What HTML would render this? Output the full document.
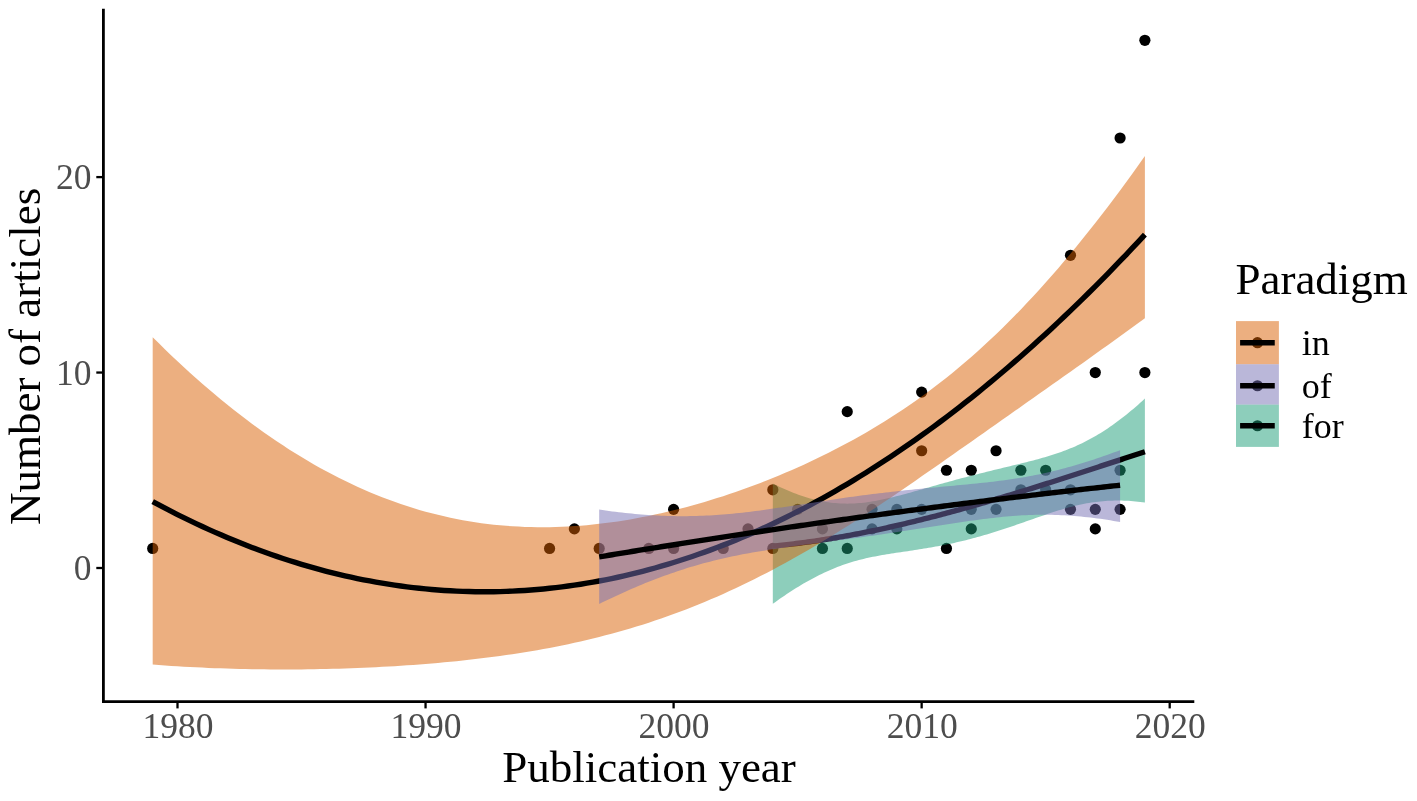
<!DOCTYPE html>
<html lang="en">
<head>
<meta charset="utf-8">
<title>Number of articles by publication year and paradigm</title>
<style>
html,body{margin:0;padding:0;background:#ffffff;}
body{width:1417px;height:801px;overflow:hidden;font-family:"Liberation Serif","Times New Roman",serif;}
svg{display:block;}
</style>
</head>
<body>
<svg width="1417" height="801" viewBox="0 0 1417 801">
<rect width="1417" height="801" fill="#ffffff"/>
<g fill="#000000">
<circle cx="152.69" cy="548.46" r="5.6"/>
<circle cx="549.58" cy="548.46" r="5.6"/>
<circle cx="574.38" cy="528.91" r="5.6"/>
<circle cx="599.18" cy="548.46" r="5.6"/>
<circle cx="648.80" cy="548.46" r="5.6"/>
<circle cx="673.60" cy="548.46" r="5.6"/>
<circle cx="673.60" cy="509.37" r="5.6"/>
<circle cx="723.21" cy="548.46" r="5.6"/>
<circle cx="748.01" cy="528.91" r="5.6"/>
<circle cx="772.82" cy="548.46" r="5.6"/>
<circle cx="772.82" cy="489.82" r="5.6"/>
<circle cx="797.62" cy="509.37" r="5.6"/>
<circle cx="822.43" cy="548.46" r="5.6"/>
<circle cx="822.43" cy="528.91" r="5.6"/>
<circle cx="847.24" cy="548.46" r="5.6"/>
<circle cx="847.24" cy="411.64" r="5.6"/>
<circle cx="872.04" cy="528.91" r="5.6"/>
<circle cx="872.04" cy="509.37" r="5.6"/>
<circle cx="896.85" cy="528.91" r="5.6"/>
<circle cx="896.85" cy="509.37" r="5.6"/>
<circle cx="921.65" cy="509.37" r="5.6"/>
<circle cx="921.65" cy="450.73" r="5.6"/>
<circle cx="921.65" cy="392.09" r="5.6"/>
<circle cx="946.46" cy="548.46" r="5.6"/>
<circle cx="946.46" cy="470.27" r="5.6"/>
<circle cx="971.26" cy="528.91" r="5.6"/>
<circle cx="971.26" cy="509.37" r="5.6"/>
<circle cx="971.26" cy="470.27" r="5.6"/>
<circle cx="996.06" cy="509.37" r="5.6"/>
<circle cx="996.06" cy="450.73" r="5.6"/>
<circle cx="1020.87" cy="489.82" r="5.6"/>
<circle cx="1020.87" cy="470.27" r="5.6"/>
<circle cx="1045.67" cy="489.82" r="5.6"/>
<circle cx="1045.67" cy="470.27" r="5.6"/>
<circle cx="1070.48" cy="509.37" r="5.6"/>
<circle cx="1070.48" cy="489.82" r="5.6"/>
<circle cx="1070.48" cy="255.28" r="5.6"/>
<circle cx="1095.28" cy="528.91" r="5.6"/>
<circle cx="1095.28" cy="509.37" r="5.6"/>
<circle cx="1095.28" cy="372.55" r="5.6"/>
<circle cx="1120.09" cy="509.37" r="5.6"/>
<circle cx="1120.09" cy="470.27" r="5.6"/>
<circle cx="1120.09" cy="138.01" r="5.6"/>
<circle cx="1144.89" cy="372.55" r="5.6"/>
<circle cx="1144.89" cy="40.28" r="5.6"/>
</g>
<path d="M772.82,483.52 L775.15,484.70 L777.47,485.85 L779.80,486.96 L782.12,488.04 L784.45,489.09 L786.77,490.11 L789.10,491.10 L791.42,492.05 L793.75,492.97 L796.07,493.85 L798.40,494.70 L800.73,495.51 L803.05,496.29 L805.38,497.03 L807.70,497.73 L810.03,498.40 L812.35,499.03 L814.68,499.62 L817.00,500.17 L819.33,500.68 L821.65,501.15 L823.98,501.58 L826.31,501.97 L828.63,502.32 L830.96,502.63 L833.28,502.90 L835.61,503.12 L837.93,503.31 L840.26,503.45 L842.58,503.55 L844.91,503.61 L847.24,503.63 L849.56,503.60 L851.89,503.54 L854.21,503.44 L856.54,503.30 L858.86,503.12 L861.19,502.91 L863.51,502.66 L865.84,502.38 L868.16,502.07 L870.49,501.73 L872.82,501.35 L875.14,500.95 L877.47,500.52 L879.79,500.07 L882.12,499.60 L884.44,499.10 L886.77,498.59 L889.09,498.05 L891.42,497.50 L893.74,496.93 L896.07,496.35 L898.40,495.76 L900.72,495.16 L903.05,494.54 L905.37,493.92 L907.70,493.29 L910.02,492.65 L912.35,492.00 L914.67,491.35 L917.00,490.70 L919.32,490.04 L921.65,489.39 L923.98,488.73 L926.30,488.07 L928.63,487.41 L930.95,486.74 L933.28,486.08 L935.60,485.43 L937.93,484.77 L940.25,484.12 L942.58,483.46 L944.90,482.81 L947.23,482.17 L949.56,481.53 L951.88,480.89 L954.21,480.25 L956.53,479.62 L958.86,479.00 L961.18,478.37 L963.51,477.76 L965.83,477.14 L968.16,476.54 L970.48,475.93 L972.81,475.33 L975.14,474.74 L977.46,474.14 L979.79,473.56 L982.11,472.97 L984.44,472.39 L986.76,471.82 L989.09,471.25 L991.41,470.68 L993.74,470.11 L996.06,469.55 L998.39,468.98 L1000.72,468.42 L1003.04,467.86 L1005.37,467.30 L1007.69,466.74 L1010.02,466.18 L1012.34,465.62 L1014.67,465.06 L1016.99,464.49 L1019.32,463.92 L1021.65,463.35 L1023.97,462.77 L1026.30,462.19 L1028.62,461.60 L1030.95,461.00 L1033.27,460.39 L1035.60,459.77 L1037.92,459.14 L1040.25,458.50 L1042.57,457.84 L1044.90,457.17 L1047.23,456.48 L1049.55,455.77 L1051.88,455.04 L1054.20,454.30 L1056.53,453.53 L1058.85,452.73 L1061.18,451.91 L1063.50,451.07 L1065.83,450.19 L1068.15,449.29 L1070.48,448.35 L1072.81,447.38 L1075.13,446.38 L1077.46,445.35 L1079.78,444.28 L1082.11,443.17 L1084.43,442.02 L1086.76,440.84 L1089.08,439.62 L1091.41,438.36 L1093.73,437.06 L1096.06,435.72 L1098.39,434.34 L1100.71,432.92 L1103.04,431.46 L1105.36,429.96 L1107.69,428.42 L1110.01,426.84 L1112.34,425.22 L1114.66,423.56 L1116.99,421.86 L1119.31,420.12 L1121.64,418.34 L1123.97,416.53 L1126.29,414.68 L1128.62,412.79 L1130.94,410.86 L1133.27,408.90 L1135.59,406.91 L1137.92,404.88 L1140.24,402.81 L1142.57,400.71 L1144.89,398.58 L1144.89,502.48 L1142.57,502.17 L1140.24,501.89 L1137.92,501.63 L1135.59,501.40 L1133.27,501.19 L1130.94,501.02 L1128.62,500.87 L1126.29,500.75 L1123.97,500.66 L1121.64,500.59 L1119.31,500.56 L1116.99,500.56 L1114.66,500.58 L1112.34,500.64 L1110.01,500.73 L1107.69,500.85 L1105.36,501.00 L1103.04,501.18 L1100.71,501.40 L1098.39,501.65 L1096.06,501.93 L1093.73,502.24 L1091.41,502.58 L1089.08,502.95 L1086.76,503.36 L1084.43,503.79 L1082.11,504.26 L1079.78,504.75 L1077.46,505.27 L1075.13,505.82 L1072.81,506.40 L1070.48,507.00 L1068.15,507.62 L1065.83,508.27 L1063.50,508.94 L1061.18,509.63 L1058.85,510.33 L1056.53,511.06 L1054.20,511.79 L1051.88,512.55 L1049.55,513.31 L1047.23,514.09 L1044.90,514.88 L1042.57,515.67 L1040.25,516.48 L1037.92,517.29 L1035.60,518.10 L1033.27,518.91 L1030.95,519.73 L1028.62,520.55 L1026.30,521.37 L1023.97,522.19 L1021.65,523.00 L1019.32,523.81 L1016.99,524.62 L1014.67,525.42 L1012.34,526.22 L1010.02,527.01 L1007.69,527.79 L1005.37,528.57 L1003.04,529.33 L1000.72,530.09 L998.39,530.84 L996.06,531.58 L993.74,532.31 L991.41,533.03 L989.09,533.73 L986.76,534.43 L984.44,535.11 L982.11,535.79 L979.79,536.45 L977.46,537.09 L975.14,537.73 L972.81,538.35 L970.48,538.96 L968.16,539.56 L965.83,540.15 L963.51,540.72 L961.18,541.28 L958.86,541.82 L956.53,542.36 L954.21,542.88 L951.88,543.39 L949.56,543.88 L947.23,544.37 L944.90,544.84 L942.58,545.30 L940.25,545.75 L937.93,546.19 L935.60,546.62 L933.28,547.04 L930.95,547.45 L928.63,547.85 L926.30,548.24 L923.98,548.62 L921.65,549.00 L919.32,549.37 L917.00,549.73 L914.67,550.09 L912.35,550.44 L910.02,550.79 L907.70,551.14 L905.37,551.48 L903.05,551.83 L900.72,552.17 L898.40,552.52 L896.07,552.87 L893.74,553.23 L891.42,553.59 L889.09,553.95 L886.77,554.33 L884.44,554.72 L882.12,555.11 L879.79,555.52 L877.47,555.95 L875.14,556.39 L872.82,556.85 L870.49,557.33 L868.16,557.83 L865.84,558.35 L863.51,558.90 L861.19,559.47 L858.86,560.07 L856.54,560.70 L854.21,561.35 L851.89,562.04 L849.56,562.75 L847.24,563.50 L844.91,564.28 L842.58,565.09 L840.26,565.93 L837.93,566.81 L835.61,567.72 L833.28,568.66 L830.96,569.64 L828.63,570.65 L826.31,571.70 L823.98,572.77 L821.65,573.88 L819.33,575.02 L817.00,576.20 L814.68,577.40 L812.35,578.63 L810.03,579.90 L807.70,581.19 L805.38,582.52 L803.05,583.87 L800.73,585.25 L798.40,586.66 L796.07,588.09 L793.75,589.55 L791.42,591.04 L789.10,592.55 L786.77,594.09 L784.45,595.65 L782.12,597.24 L779.80,598.85 L777.47,600.48 L775.15,602.14 L772.82,603.82Z" fill="#1B9E77" fill-opacity="0.5"/>
<path d="M772.82,546.04 L775.15,545.82 L777.47,545.60 L779.80,545.36 L782.12,545.12 L784.45,544.88 L786.77,544.62 L789.10,544.36 L791.42,544.09 L793.75,543.82 L796.07,543.54 L798.40,543.25 L800.73,542.95 L803.05,542.65 L805.38,542.34 L807.70,542.03 L810.03,541.71 L812.35,541.38 L814.68,541.05 L817.00,540.71 L819.33,540.36 L821.65,540.01 L823.98,539.65 L826.31,539.28 L828.63,538.91 L830.96,538.53 L833.28,538.15 L835.61,537.76 L837.93,537.36 L840.26,536.96 L842.58,536.56 L844.91,536.14 L847.24,535.72 L849.56,535.30 L851.89,534.87 L854.21,534.43 L856.54,533.99 L858.86,533.55 L861.19,533.09 L863.51,532.64 L865.84,532.17 L868.16,531.70 L870.49,531.23 L872.82,530.75 L875.14,530.27 L877.47,529.78 L879.79,529.28 L882.12,528.79 L884.44,528.28 L886.77,527.77 L889.09,527.26 L891.42,526.74 L893.74,526.22 L896.07,525.69 L898.40,525.15 L900.72,524.62 L903.05,524.07 L905.37,523.53 L907.70,522.98 L910.02,522.42 L912.35,521.86 L914.67,521.30 L917.00,520.73 L919.32,520.15 L921.65,519.58 L923.98,518.99 L926.30,518.41 L928.63,517.82 L930.95,517.23 L933.28,516.63 L935.60,516.03 L937.93,515.42 L940.25,514.81 L942.58,514.20 L944.90,513.58 L947.23,512.96 L949.56,512.33 L951.88,511.71 L954.21,511.08 L956.53,510.44 L958.86,509.80 L961.18,509.16 L963.51,508.51 L965.83,507.87 L968.16,507.21 L970.48,506.56 L972.81,505.90 L975.14,505.24 L977.46,504.57 L979.79,503.91 L982.11,503.24 L984.44,502.56 L986.76,501.89 L989.09,501.21 L991.41,500.53 L993.74,499.84 L996.06,499.15 L998.39,498.46 L1000.72,497.77 L1003.04,497.07 L1005.37,496.38 L1007.69,495.68 L1010.02,494.97 L1012.34,494.27 L1014.67,493.56 L1016.99,492.85 L1019.32,492.14 L1021.65,491.43 L1023.97,490.71 L1026.30,489.99 L1028.62,489.27 L1030.95,488.55 L1033.27,487.82 L1035.60,487.10 L1037.92,486.37 L1040.25,485.64 L1042.57,484.91 L1044.90,484.17 L1047.23,483.44 L1049.55,482.70 L1051.88,481.96 L1054.20,481.23 L1056.53,480.48 L1058.85,479.74 L1061.18,479.00 L1063.50,478.25 L1065.83,477.51 L1068.15,476.76 L1070.48,476.01 L1072.81,475.26 L1075.13,474.51 L1077.46,473.76 L1079.78,473.00 L1082.11,472.25 L1084.43,471.49 L1086.76,470.74 L1089.08,469.98 L1091.41,469.22 L1093.73,468.46 L1096.06,467.71 L1098.39,466.95 L1100.71,466.19 L1103.04,465.43 L1105.36,464.66 L1107.69,463.90 L1110.01,463.14 L1112.34,462.38 L1114.66,461.62 L1116.99,460.85 L1119.31,460.09 L1121.64,459.33 L1123.97,458.56 L1126.29,457.80 L1128.62,457.04 L1130.94,456.27 L1133.27,455.51 L1135.59,454.75 L1137.92,453.99 L1140.24,453.22 L1142.57,452.46 L1144.89,451.70" fill="none" stroke="#000" stroke-width="5.4"/>
<path d="M152.69,337.18 L158.90,343.36 L165.10,349.44 L171.30,355.41 L177.50,361.28 L183.70,367.05 L189.90,372.72 L196.10,378.28 L202.31,383.75 L208.51,389.11 L214.71,394.36 L220.91,399.52 L227.11,404.57 L233.31,409.51 L239.51,414.36 L245.71,419.10 L251.91,423.74 L258.12,428.27 L264.32,432.70 L270.52,437.03 L276.72,441.25 L282.92,445.37 L289.12,449.39 L295.32,453.30 L301.52,457.11 L307.73,460.82 L313.93,464.42 L320.13,467.92 L326.33,471.31 L332.53,474.60 L338.73,477.79 L344.93,480.87 L351.13,483.85 L357.34,486.73 L363.54,489.50 L369.74,492.17 L375.94,494.74 L382.14,497.21 L388.34,499.57 L394.54,501.84 L400.75,504.00 L406.95,506.06 L413.15,508.02 L419.35,509.88 L425.55,511.64 L431.75,513.30 L437.95,514.87 L444.15,516.34 L450.36,517.71 L456.56,518.98 L462.76,520.16 L468.96,521.24 L475.16,522.23 L481.36,523.13 L487.56,523.94 L493.76,524.65 L499.96,525.28 L506.17,525.81 L512.37,526.26 L518.57,526.62 L524.77,526.89 L530.97,527.08 L537.17,527.19 L543.37,527.21 L549.58,527.15 L555.78,527.01 L561.98,526.78 L568.18,526.49 L574.38,526.11 L580.58,525.65 L586.78,525.13 L592.98,524.52 L599.18,523.84 L605.39,523.09 L611.59,522.27 L617.79,521.38 L623.99,520.42 L630.19,519.39 L636.39,518.29 L642.59,517.12 L648.80,515.89 L655.00,514.59 L661.20,513.23 L667.40,511.80 L673.60,510.31 L679.80,508.76 L686.00,507.14 L692.20,505.46 L698.40,503.72 L704.61,501.91 L710.81,500.05 L717.01,498.12 L723.21,496.13 L729.41,494.08 L735.61,491.97 L741.81,489.80 L748.01,487.57 L754.22,485.27 L760.42,482.92 L766.62,480.50 L772.82,478.02 L779.02,475.48 L785.22,472.87 L791.42,470.19 L797.62,467.46 L803.83,464.65 L810.03,461.78 L816.23,458.84 L822.43,455.83 L828.63,452.74 L834.83,449.59 L841.03,446.35 L847.24,443.05 L853.44,439.66 L859.64,436.19 L865.84,432.64 L872.04,429.00 L878.24,425.27 L884.44,421.46 L890.64,417.55 L896.85,413.54 L903.05,409.43 L909.25,405.23 L915.45,400.91 L921.65,396.49 L927.85,391.96 L934.05,387.32 L940.25,382.56 L946.46,377.68 L952.66,372.68 L958.86,367.56 L965.06,362.32 L971.26,356.95 L977.46,351.46 L983.66,345.83 L989.86,340.08 L996.06,334.20 L1002.27,328.19 L1008.47,322.06 L1014.67,315.79 L1020.87,309.40 L1027.07,302.87 L1033.27,296.22 L1039.47,289.45 L1045.67,282.55 L1051.88,275.53 L1058.08,268.38 L1064.28,261.11 L1070.48,253.72 L1076.68,246.21 L1082.88,238.58 L1089.08,230.83 L1095.28,222.97 L1101.49,214.99 L1107.69,206.90 L1113.89,198.69 L1120.09,190.38 L1126.29,181.94 L1132.49,173.40 L1138.69,164.75 L1144.89,155.99 L1144.89,318.15 L1138.69,322.69 L1132.49,327.21 L1126.29,331.72 L1120.09,336.21 L1113.89,340.69 L1107.69,345.15 L1101.49,349.60 L1095.28,354.04 L1089.08,358.47 L1082.88,362.89 L1076.68,367.30 L1070.48,371.70 L1064.28,376.09 L1058.08,380.48 L1051.88,384.86 L1045.67,389.24 L1039.47,393.61 L1033.27,397.98 L1027.07,402.35 L1020.87,406.71 L1014.67,411.08 L1008.47,415.44 L1002.27,419.81 L996.06,424.17 L989.86,428.54 L983.66,432.90 L977.46,437.27 L971.26,441.63 L965.06,445.99 L958.86,450.35 L952.66,454.70 L946.46,459.05 L940.25,463.40 L934.05,467.73 L927.85,472.05 L921.65,476.36 L915.45,480.66 L909.25,484.94 L903.05,489.19 L896.85,493.43 L890.64,497.63 L884.44,501.81 L878.24,505.96 L872.04,510.08 L865.84,514.16 L859.64,518.20 L853.44,522.21 L847.24,526.16 L841.03,530.08 L834.83,533.95 L828.63,537.77 L822.43,541.53 L816.23,545.25 L810.03,548.91 L803.83,552.52 L797.62,556.07 L791.42,559.56 L785.22,563.00 L779.02,566.37 L772.82,569.68 L766.62,572.93 L760.42,576.12 L754.22,579.25 L748.01,582.31 L741.81,585.31 L735.61,588.25 L729.41,591.12 L723.21,593.93 L717.01,596.67 L710.81,599.35 L704.61,601.96 L698.40,604.52 L692.20,607.00 L686.00,609.42 L679.80,611.78 L673.60,614.08 L667.40,616.32 L661.20,618.49 L655.00,620.60 L648.80,622.65 L642.59,624.64 L636.39,626.57 L630.19,628.44 L623.99,630.26 L617.79,632.02 L611.59,633.72 L605.39,635.36 L599.18,636.96 L592.98,638.50 L586.78,639.98 L580.58,641.42 L574.38,642.81 L568.18,644.14 L561.98,645.43 L555.78,646.68 L549.58,647.88 L543.37,649.03 L537.17,650.14 L530.97,651.21 L524.77,652.23 L518.57,653.22 L512.37,654.17 L506.17,655.08 L499.96,655.96 L493.76,656.80 L487.56,657.60 L481.36,658.37 L475.16,659.11 L468.96,659.82 L462.76,660.50 L456.56,661.15 L450.36,661.76 L444.15,662.36 L437.95,662.92 L431.75,663.46 L425.55,663.97 L419.35,664.45 L413.15,664.91 L406.95,665.35 L400.75,665.76 L394.54,666.15 L388.34,666.52 L382.14,666.86 L375.94,667.18 L369.74,667.48 L363.54,667.76 L357.34,668.02 L351.13,668.26 L344.93,668.47 L338.73,668.66 L332.53,668.84 L326.33,668.99 L320.13,669.12 L313.93,669.23 L307.73,669.32 L301.52,669.39 L295.32,669.43 L289.12,669.46 L282.92,669.47 L276.72,669.45 L270.52,669.42 L264.32,669.36 L258.12,669.28 L251.91,669.18 L245.71,669.06 L239.51,668.92 L233.31,668.76 L227.11,668.57 L220.91,668.37 L214.71,668.14 L208.51,667.89 L202.31,667.61 L196.10,667.32 L189.90,667.00 L183.70,666.66 L177.50,666.30 L171.30,665.91 L165.10,665.50 L158.90,665.07 L152.69,664.61Z" fill="#D95F02" fill-opacity="0.5"/>
<path d="M152.69,501.58 L158.90,504.91 L165.10,508.19 L171.30,511.40 L177.50,514.56 L183.70,517.64 L189.90,520.67 L196.10,523.63 L202.31,526.53 L208.51,529.36 L214.71,532.13 L220.91,534.84 L227.11,537.49 L233.31,540.07 L239.51,542.59 L245.71,545.05 L251.91,547.45 L258.12,549.78 L264.32,552.05 L270.52,554.25 L276.72,556.39 L282.92,558.47 L289.12,560.49 L295.32,562.44 L301.52,564.34 L307.73,566.16 L313.93,567.93 L320.13,569.63 L326.33,571.27 L332.53,572.84 L338.73,574.36 L344.93,575.81 L351.13,577.19 L357.34,578.52 L363.54,579.78 L369.74,580.97 L375.94,582.11 L382.14,583.18 L388.34,584.19 L394.54,585.14 L400.75,586.02 L406.95,586.84 L413.15,587.60 L419.35,588.29 L425.55,588.92 L431.75,589.49 L437.95,589.99 L444.15,590.44 L450.36,590.81 L456.56,591.13 L462.76,591.38 L468.96,591.57 L475.16,591.70 L481.36,591.76 L487.56,591.76 L493.76,591.70 L499.96,591.58 L506.17,591.39 L512.37,591.14 L518.57,590.82 L524.77,590.45 L530.97,590.01 L537.17,589.51 L543.37,588.94 L549.58,588.31 L555.78,587.62 L561.98,586.86 L568.18,586.05 L574.38,585.17 L580.58,584.22 L586.78,583.21 L592.98,582.14 L599.18,581.01 L605.39,579.82 L611.59,578.56 L617.79,577.24 L623.99,575.85 L630.19,574.40 L636.39,572.89 L642.59,571.32 L648.80,569.68 L655.00,567.98 L661.20,566.22 L667.40,564.39 L673.60,562.51 L679.80,560.55 L686.00,558.54 L692.20,556.46 L698.40,554.32 L704.61,552.12 L710.81,549.85 L717.01,547.52 L723.21,545.13 L729.41,542.67 L735.61,540.15 L741.81,537.57 L748.01,534.93 L754.22,532.22 L760.42,529.45 L766.62,526.62 L772.82,523.72 L779.02,520.76 L785.22,517.74 L791.42,514.65 L797.62,511.51 L803.83,508.29 L810.03,505.02 L816.23,501.68 L822.43,498.28 L828.63,494.82 L834.83,491.29 L841.03,487.70 L847.24,484.05 L853.44,480.34 L859.64,476.56 L865.84,472.72 L872.04,468.81 L878.24,464.84 L884.44,460.81 L890.64,456.72 L896.85,452.57 L903.05,448.35 L909.25,444.06 L915.45,439.72 L921.65,435.31 L927.85,430.84 L934.05,426.31 L940.25,421.71 L946.46,417.05 L952.66,412.33 L958.86,407.54 L965.06,402.69 L971.26,397.78 L977.46,392.80 L983.66,387.76 L989.86,382.66 L996.06,377.50 L1002.27,372.27 L1008.47,366.98 L1014.67,361.63 L1020.87,356.21 L1027.07,350.74 L1033.27,345.19 L1039.47,339.59 L1045.67,333.92 L1051.88,328.19 L1058.08,322.40 L1064.28,316.54 L1070.48,310.62 L1076.68,304.64 L1082.88,298.59 L1089.08,292.48 L1095.28,286.31 L1101.49,280.08 L1107.69,273.78 L1113.89,267.42 L1120.09,260.99 L1126.29,254.51 L1132.49,247.96 L1138.69,241.34 L1144.89,234.67" fill="none" stroke="#000" stroke-width="5.4"/>
<path d="M599.18,509.54 L602.44,510.02 L605.70,510.49 L608.95,510.94 L612.21,511.38 L615.46,511.79 L618.72,512.19 L621.97,512.57 L625.23,512.94 L628.49,513.28 L631.74,513.61 L635.00,513.92 L638.25,514.21 L641.51,514.48 L644.76,514.73 L648.02,514.97 L651.28,515.18 L654.53,515.37 L657.79,515.55 L661.04,515.70 L664.30,515.83 L667.55,515.94 L670.81,516.03 L674.07,516.10 L677.32,516.15 L680.58,516.17 L683.83,516.18 L687.09,516.16 L690.34,516.12 L693.60,516.06 L696.85,515.98 L700.11,515.87 L703.37,515.74 L706.62,515.60 L709.88,515.43 L713.13,515.23 L716.39,515.02 L719.64,514.79 L722.90,514.54 L726.16,514.27 L729.41,513.98 L732.67,513.67 L735.92,513.34 L739.18,513.00 L742.43,512.64 L745.69,512.27 L748.95,511.88 L752.20,511.47 L755.46,511.06 L758.71,510.63 L761.97,510.19 L765.22,509.75 L768.48,509.29 L771.73,508.82 L774.99,508.35 L778.25,507.87 L781.50,507.38 L784.76,506.89 L788.01,506.40 L791.27,505.90 L794.52,505.40 L797.78,504.90 L801.04,504.40 L804.29,503.90 L807.55,503.39 L810.80,502.89 L814.06,502.39 L817.31,501.89 L820.57,501.40 L823.83,500.90 L827.08,500.41 L830.34,499.93 L833.59,499.45 L836.85,498.97 L840.10,498.50 L843.36,498.03 L846.61,497.57 L849.87,497.11 L853.13,496.66 L856.38,496.22 L859.64,495.78 L862.89,495.35 L866.15,494.92 L869.40,494.50 L872.66,494.09 L875.92,493.69 L879.17,493.29 L882.43,492.89 L885.68,492.51 L888.94,492.13 L892.19,491.76 L895.45,491.39 L898.71,491.03 L901.96,490.68 L905.22,490.33 L908.47,489.99 L911.73,489.66 L914.98,489.33 L918.24,489.00 L921.49,488.68 L924.75,488.37 L928.01,488.05 L931.26,487.74 L934.52,487.44 L937.77,487.13 L941.03,486.83 L944.28,486.53 L947.54,486.23 L950.80,485.93 L954.05,485.63 L957.31,485.33 L960.56,485.03 L963.82,484.72 L967.07,484.41 L970.33,484.09 L973.59,483.77 L976.84,483.44 L980.10,483.10 L983.35,482.76 L986.61,482.40 L989.86,482.03 L993.12,481.65 L996.38,481.26 L999.63,480.85 L1002.89,480.42 L1006.14,479.98 L1009.40,479.52 L1012.65,479.03 L1015.91,478.53 L1019.16,478.01 L1022.42,477.47 L1025.68,476.90 L1028.93,476.31 L1032.19,475.70 L1035.44,475.06 L1038.70,474.40 L1041.95,473.72 L1045.21,473.01 L1048.47,472.27 L1051.72,471.51 L1054.98,470.72 L1058.23,469.91 L1061.49,469.08 L1064.74,468.21 L1068.00,467.33 L1071.26,466.42 L1074.51,465.49 L1077.77,464.54 L1081.02,463.56 L1084.28,462.56 L1087.53,461.53 L1090.79,460.49 L1094.04,459.43 L1097.30,458.34 L1100.56,457.23 L1103.81,456.10 L1107.07,454.96 L1110.32,453.79 L1113.58,452.60 L1116.83,451.40 L1120.09,450.18 L1120.09,522.01 L1116.83,521.44 L1113.58,520.88 L1110.32,520.34 L1107.07,519.83 L1103.81,519.34 L1100.56,518.87 L1097.30,518.43 L1094.04,518.01 L1090.79,517.61 L1087.53,517.24 L1084.28,516.89 L1081.02,516.57 L1077.77,516.27 L1074.51,516.00 L1071.26,515.75 L1068.00,515.54 L1064.74,515.34 L1061.49,515.18 L1058.23,515.04 L1054.98,514.93 L1051.72,514.85 L1048.47,514.80 L1045.21,514.77 L1041.95,514.78 L1038.70,514.81 L1035.44,514.87 L1032.19,514.95 L1028.93,515.06 L1025.68,515.20 L1022.42,515.37 L1019.16,515.56 L1015.91,515.78 L1012.65,516.02 L1009.40,516.28 L1006.14,516.57 L1002.89,516.87 L999.63,517.20 L996.38,517.54 L993.12,517.91 L989.86,518.29 L986.61,518.68 L983.35,519.10 L980.10,519.52 L976.84,519.96 L973.59,520.40 L970.33,520.86 L967.07,521.33 L963.82,521.80 L960.56,522.28 L957.31,522.77 L954.05,523.26 L950.80,523.76 L947.54,524.26 L944.28,524.77 L941.03,525.27 L937.77,525.78 L934.52,526.29 L931.26,526.80 L928.01,527.31 L924.75,527.82 L921.49,528.33 L918.24,528.84 L914.98,529.34 L911.73,529.85 L908.47,530.35 L905.22,530.85 L901.96,531.34 L898.71,531.83 L895.45,532.32 L892.19,532.81 L888.94,533.29 L885.68,533.77 L882.43,534.25 L879.17,534.72 L875.92,535.19 L872.66,535.65 L869.40,536.11 L866.15,536.57 L862.89,537.02 L859.64,537.47 L856.38,537.92 L853.13,538.36 L849.87,538.81 L846.61,539.24 L843.36,539.68 L840.10,540.11 L836.85,540.54 L833.59,540.97 L830.34,541.40 L827.08,541.82 L823.83,542.25 L820.57,542.67 L817.31,543.10 L814.06,543.52 L810.80,543.95 L807.55,544.38 L804.29,544.81 L801.04,545.24 L797.78,545.68 L794.52,546.12 L791.27,546.56 L788.01,547.01 L784.76,547.47 L781.50,547.93 L778.25,548.40 L774.99,548.88 L771.73,549.37 L768.48,549.87 L765.22,550.39 L761.97,550.91 L758.71,551.45 L755.46,552.00 L752.20,552.56 L748.95,553.14 L745.69,553.74 L742.43,554.36 L739.18,554.99 L735.92,555.64 L732.67,556.32 L729.41,557.01 L726.16,557.72 L722.90,558.46 L719.64,559.22 L716.39,560.00 L713.13,560.81 L709.88,561.63 L706.62,562.49 L703.37,563.37 L700.11,564.27 L696.85,565.19 L693.60,566.15 L690.34,567.12 L687.09,568.12 L683.83,569.15 L680.58,570.20 L677.32,571.28 L674.07,572.38 L670.81,573.50 L667.55,574.65 L664.30,575.82 L661.04,577.02 L657.79,578.24 L654.53,579.48 L651.28,580.75 L648.02,582.04 L644.76,583.35 L641.51,584.69 L638.25,586.05 L635.00,587.43 L631.74,588.83 L628.49,590.25 L625.23,591.69 L621.97,593.16 L618.72,594.64 L615.46,596.15 L612.21,597.68 L608.95,599.22 L605.70,600.79 L602.44,602.37 L599.18,603.98Z" fill="#7570B3" fill-opacity="0.5"/>
<path d="M599.18,556.88 L602.44,556.33 L605.70,555.79 L608.95,555.25 L612.21,554.72 L615.46,554.18 L618.72,553.65 L621.97,553.11 L625.23,552.58 L628.49,552.05 L631.74,551.52 L635.00,550.99 L638.25,550.46 L641.51,549.93 L644.76,549.40 L648.02,548.88 L651.28,548.36 L654.53,547.83 L657.79,547.31 L661.04,546.79 L664.30,546.27 L667.55,545.75 L670.81,545.24 L674.07,544.72 L677.32,544.21 L680.58,543.69 L683.83,543.18 L687.09,542.67 L690.34,542.16 L693.60,541.65 L696.85,541.15 L700.11,540.64 L703.37,540.14 L706.62,539.63 L709.88,539.13 L713.13,538.63 L716.39,538.13 L719.64,537.63 L722.90,537.13 L726.16,536.63 L729.41,536.14 L732.67,535.64 L735.92,535.15 L739.18,534.66 L742.43,534.17 L745.69,533.68 L748.95,533.19 L752.20,532.70 L755.46,532.22 L758.71,531.73 L761.97,531.25 L765.22,530.77 L768.48,530.28 L771.73,529.80 L774.99,529.33 L778.25,528.85 L781.50,528.37 L784.76,527.90 L788.01,527.42 L791.27,526.95 L794.52,526.48 L797.78,526.00 L801.04,525.53 L804.29,525.07 L807.55,524.60 L810.80,524.13 L814.06,523.67 L817.31,523.20 L820.57,522.74 L823.83,522.28 L827.08,521.82 L830.34,521.36 L833.59,520.90 L836.85,520.45 L840.10,519.99 L843.36,519.54 L846.61,519.08 L849.87,518.63 L853.13,518.18 L856.38,517.73 L859.64,517.28 L862.89,516.83 L866.15,516.39 L869.40,515.94 L872.66,515.50 L875.92,515.06 L879.17,514.62 L882.43,514.17 L885.68,513.74 L888.94,513.30 L892.19,512.86 L895.45,512.43 L898.71,511.99 L901.96,511.56 L905.22,511.13 L908.47,510.69 L911.73,510.26 L914.98,509.84 L918.24,509.41 L921.49,508.98 L924.75,508.56 L928.01,508.13 L931.26,507.71 L934.52,507.29 L937.77,506.87 L941.03,506.45 L944.28,506.03 L947.54,505.62 L950.80,505.20 L954.05,504.79 L957.31,504.37 L960.56,503.96 L963.82,503.55 L967.07,503.14 L970.33,502.73 L973.59,502.32 L976.84,501.92 L980.10,501.51 L983.35,501.11 L986.61,500.71 L989.86,500.30 L993.12,499.90 L996.38,499.50 L999.63,499.11 L1002.89,498.71 L1006.14,498.31 L1009.40,497.92 L1012.65,497.53 L1015.91,497.13 L1019.16,496.74 L1022.42,496.35 L1025.68,495.96 L1028.93,495.58 L1032.19,495.19 L1035.44,494.81 L1038.70,494.42 L1041.95,494.04 L1045.21,493.66 L1048.47,493.28 L1051.72,492.90 L1054.98,492.52 L1058.23,492.14 L1061.49,491.77 L1064.74,491.39 L1068.00,491.02 L1071.26,490.65 L1074.51,490.28 L1077.77,489.91 L1081.02,489.54 L1084.28,489.17 L1087.53,488.80 L1090.79,488.44 L1094.04,488.07 L1097.30,487.71 L1100.56,487.35 L1103.81,486.99 L1107.07,486.63 L1110.32,486.27 L1113.58,485.91 L1116.83,485.56 L1120.09,485.20" fill="none" stroke="#000" stroke-width="5.4"/>
<g stroke="#000" stroke-width="2.8" fill="none" stroke-linecap="butt">
<path d="M103.4,8.7 V703.0"/>
<path d="M102.0,701.6 H1194.3"/>
</g>
<g stroke="#000" stroke-width="2.3" fill="none">
<path d="M177.50,703.0 V708.4"/>
<path d="M425.55,703.0 V708.4"/>
<path d="M673.60,703.0 V708.4"/>
<path d="M921.65,703.0 V708.4"/>
<path d="M1169.70,703.0 V708.4"/>
<path d="M96.3,568.00 H102.10000000000001"/>
<path d="M96.3,372.55 H102.10000000000001"/>
<path d="M96.3,177.10 H102.10000000000001"/>
</g>
<g font-family="'Liberation Serif', 'Times New Roman', serif" font-size="35.5" fill="#4D4D4D">
<text x="178.00" y="738" text-anchor="middle">1980</text>
<text x="426.05" y="738" text-anchor="middle">1990</text>
<text x="674.10" y="738" text-anchor="middle">2000</text>
<text x="922.15" y="738" text-anchor="middle">2010</text>
<text x="1170.20" y="738" text-anchor="middle">2020</text>
<text x="91.5" y="580.10" text-anchor="end">0</text>
<text x="91.5" y="384.65" text-anchor="end">10</text>
<text x="91.5" y="189.20" text-anchor="end">20</text>
</g>
<g font-family="'Liberation Serif', 'Times New Roman', serif" fill="#000">
<text x="649" y="781.7" font-size="45" text-anchor="middle">Publication year</text>
<text transform="translate(40,356.4) rotate(-90)" font-size="45" text-anchor="middle">Number of articles</text>
<text x="1235.4" y="294.2" font-size="45">Paradigm</text>
<text x="1301.8" y="354.6" font-size="36">in</text>
<text x="1301.8" y="397.8" font-size="36">of</text>
<text x="1301.8" y="437.7" font-size="36">for</text>
</g>
<circle cx="1257.45" cy="342.68" r="5.6" fill="#000"/>
<rect x="1236.0" y="321.1" width="42.90" height="43.15" fill="#D95F02" fill-opacity="0.5"/>
<path d="M1240.1,342.68 H1274.75" stroke="#000" stroke-width="5.4" fill="none"/>
<circle cx="1257.45" cy="385.75" r="5.6" fill="#000"/>
<rect x="1236.0" y="364.25" width="42.90" height="40.40" fill="#7570B3" fill-opacity="0.5"/>
<path d="M1240.1,385.75 H1274.75" stroke="#000" stroke-width="5.4" fill="none"/>
<circle cx="1257.45" cy="425.77" r="5.6" fill="#000"/>
<rect x="1236.0" y="404.65" width="42.90" height="42.25" fill="#1B9E77" fill-opacity="0.5"/>
<path d="M1240.1,425.77 H1274.75" stroke="#000" stroke-width="5.4" fill="none"/>
</svg>
</body>
</html>
